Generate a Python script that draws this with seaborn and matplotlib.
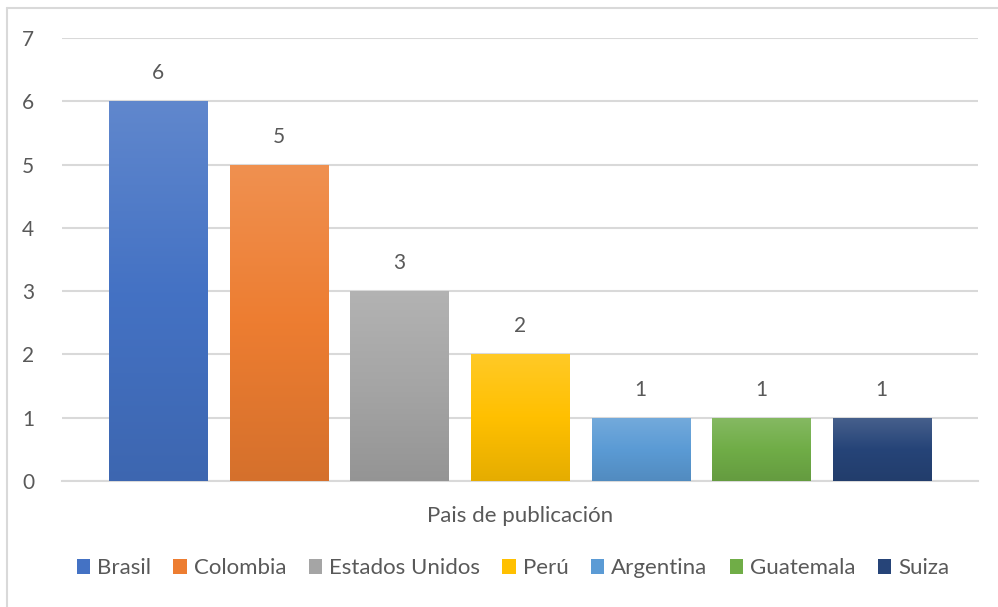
import numpy as np
import pandas as pd
import matplotlib
matplotlib.use("Agg")
import matplotlib.pyplot as plt
import matplotlib.colors as mcolors
import seaborn as sns

categoria = "Pais de publicación"
paises = ["Brasil", "Colombia", "Estados Unidos", "Perú", "Argentina", "Guatemala", "Suiza"]
valores = [6, 5, 3, 2, 1, 1, 1]
colores = ["#4472C4", "#ED7D31", "#A5A5A5", "#FFC000", "#5B9BD5", "#70AD47", "#264478"]
y_ticks = [0, 1, 2, 3, 4, 5, 6, 7]

df = pd.DataFrame({"categoria": [categoria] * len(paises), "pais": paises, "valor": valores})

sns.set_theme(style="white")
plt.rcParams["font.family"] = ["Lato", "DejaVu Sans"]
text_color = "#595959"
grid_color = "#D9D9D9"
fs = 15
fs_text = 16

fig = plt.figure(figsize=(9.98, 6.07), dpi=100)
ax = fig.add_axes([0.0621, 0.2076, 0.9179, 0.7298])

sns.barplot(data=df, x="categoria", y="valor", hue="pais", hue_order=paises,
            palette=colores, width=0.921, ax=ax, legend=True, saturation=1,
            edgecolor="none", linewidth=0, zorder=3)

ax.set_ylim(0, 7)
ax.set_xlim(-0.5, 0.5)
ax.set_yticks(y_ticks)
ax.yaxis.grid(True, color=grid_color, linewidth=1.5, zorder=0)
ax.set_axisbelow(True)
for s in ["top", "right", "left"]:
    ax.spines[s].set_visible(False)
ax.spines["bottom"].set_color(grid_color)
ax.spines["bottom"].set_linewidth(1.5)
ax.tick_params(axis="y", length=0, pad=20, labelsize=fs, labelcolor=text_color)
ax.tick_params(axis="x", length=0, pad=18, labelsize=fs_text, labelcolor=text_color)
ax.set_xlabel("")
ax.set_ylabel("")

def blend(c, other, t):
    c = np.array(mcolors.to_rgb(c)); o = np.array(mcolors.to_rgb(other))
    return c * (1 - t) + o * t

# shrink bars to leave gaps, gradient fill and value labels
shrink = 98.0 / 120.5
bars = [p for p in ax.patches if p.get_height() > 0]
for p, col in zip(bars, colores):
    w = p.get_width()
    cx = p.get_x() + w / 2
    nw = w * shrink
    p.set_x(cx - nw / 2)
    p.set_width(nw)
    top = blend(col, "white", 0.15)
    mid = np.array(mcolors.to_rgb(col))
    bot = blend(col, "black", 0.10)
    grad = np.vstack([top, mid, bot])
    n = 64
    tt = np.linspace(0, 1, n)
    img = np.zeros((n, 1, 3))
    for k in range(3):
        img[:, 0, k] = np.interp(tt, [0, 0.5, 1], grad[:, k])
    x0, x1 = p.get_x(), p.get_x() + p.get_width()
    y0, y1 = 0, p.get_height()
    im = ax.imshow(img, extent=[x0, x1, y0, y1], aspect="auto", zorder=3.5,
                   interpolation="bilinear")
    im.set_clip_path(p)
    ax.annotate(f"{int(p.get_height())}", (cx, p.get_height()), xytext=(0, 13),
                textcoords="offset points", ha="center", va="bottom",
                fontsize=fs, color=text_color)
ax.set_xlim(-0.5, 0.5)
ax.set_ylim(0, 7)

handles, labels = ax.get_legend_handles_labels()
ax.get_legend().remove()
fig.legend(handles, labels, loc="center", bbox_to_anchor=(0.514, 0.064), ncol=7,
           frameon=False, fontsize=fs_text, handlelength=0.62, handleheight=0.62,
           handletextpad=0.3, columnspacing=1.0, labelcolor=text_color)

# chart border (top and left visible)
fig.add_artist(plt.Line2D([7/998, 1.0], [1 - 8/607, 1 - 8/607], color=grid_color, lw=1.5,
                          transform=fig.transFigure))
fig.add_artist(plt.Line2D([7/998, 7/998], [0, 1 - 8/607], color=grid_color, lw=1.5,
                          transform=fig.transFigure))

fig.savefig("out.png", dpi=100, facecolor="white")
